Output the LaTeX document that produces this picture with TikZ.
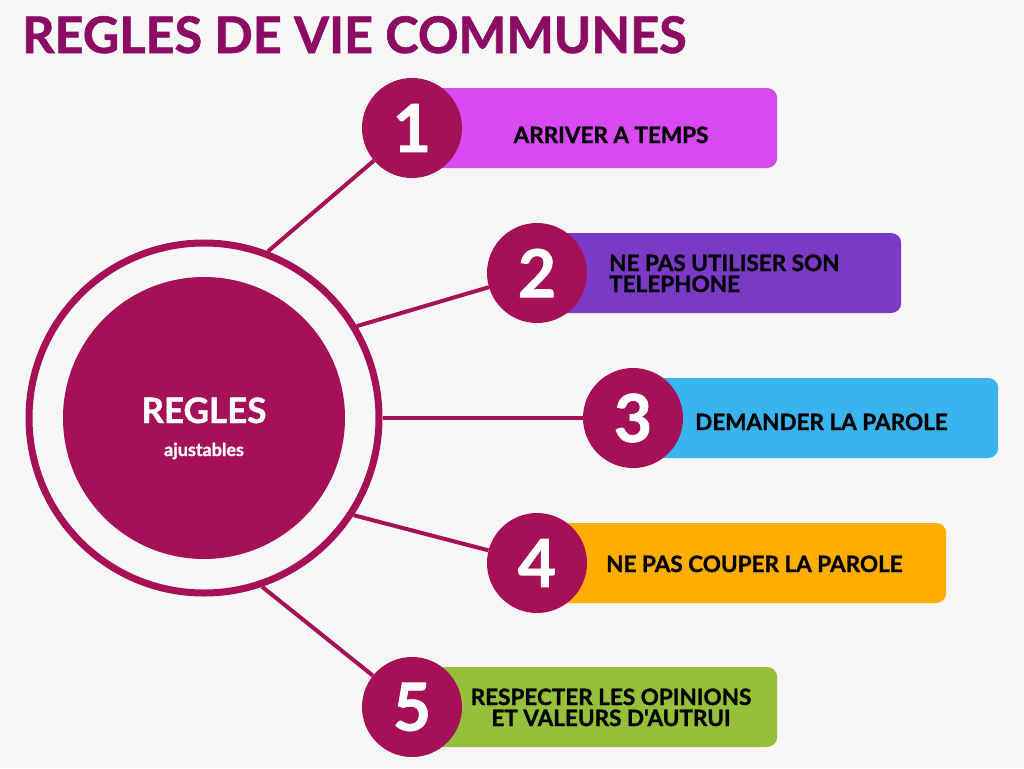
\documentclass[tikz,border=0pt]{standalone}
\usepackage{fontspec}
\setmainfont{Lato}[Ligatures=TeXOff,BoldFeatures={FakeBold=1.2}]
\usetikzlibrary{positioning}
\definecolor{bggray}{HTML}{F7F7F7}
\definecolor{berry}{HTML}{A51057}
\definecolor{plum}{HTML}{8C0C63}
\definecolor{barA}{HTML}{D94AF5}
\definecolor{barB}{HTML}{7B3AC6}
\definecolor{barC}{HTML}{3AB4EF}
\definecolor{barD}{HTML}{FFAE00}
\definecolor{barE}{HTML}{96BF3A}

\begin{document}
\begin{tikzpicture}[x=1pt,y=-1pt,
    num/.style={circle,fill=berry,minimum size=100pt,inner sep=0pt,text=white,
      font=\fontsize{66}{66}\selectfont\bfseries},
    bar/.style={rounded corners=10pt,minimum height=80pt,anchor=west,inner sep=0pt},
    txt/.style={font=\fontsize{22.5}{21}\selectfont\bfseries,text=black,inner sep=0pt},
    spoke/.style={draw=berry,line width=4pt}]
  \fill[bggray] (0,0) rectangle (1024,768);
  \useasboundingbox (0,0) rectangle (1024,768);

  \node[anchor=base west,inner sep=0pt,text=plum,font=\fontsize{50.4}{50}\selectfont\bfseries]
    (title) at (22,53) {REGLES DE VIE COMMUNES};

  \foreach \i/\x/\y/\w/\c in {1/412/128/365/barA,2/537/273/364/barB,3/633/418/365/barC,
                              4/537/563/409/barD,5/412/707/365/barE}
  {
    \node[bar,fill=\c,minimum width=\w pt] (b\i) at (\x,\y) {};
    \node[num] (n\i) at (\x,\y) {\i};
  }

  \node[txt,anchor=base] (t1) at (611,143) {ARRIVER A TEMPS};
  \node[txt,anchor=base west,align=left] (t2) at (609,292) {NE PAS UTILISER SON\\TELEPHONE};
  \node[txt,anchor=base west] (t3) at (695,430) {DEMANDER LA PAROLE};
  \node[txt,anchor=base west] (t4) at (606,572) {NE PAS COUPER LA PAROLE};
  \node[txt,anchor=base,align=center] (t5) at (611,726) {RESPECTER LES OPINIONS\\ET VALEURS D'AUTRUI};

  \node[circle,draw=berry,line width=7pt,minimum size=350pt,inner sep=0pt] (ring) at (204,418) {};
  \node[circle,fill=berry,minimum size=282pt,inner sep=0pt] (core) at (ring.center) {};
  \node[anchor=base,text=white,inner sep=0pt,font=\fontsize{35}{35}\selectfont\bfseries]
    (regles) at (204,423) {REGLES};
  \node[anchor=base,text=white,inner sep=0pt,font=\fontsize{18}{18}\selectfont\bfseries]
    (ajust) at (204,456) {ajustables};

  \foreach \a/\i in {69/1,31/2,0/3,-33/4,-71/5}
    \draw[spoke] (ring.\a) -- (n\i);
\end{tikzpicture}
\end{document}
